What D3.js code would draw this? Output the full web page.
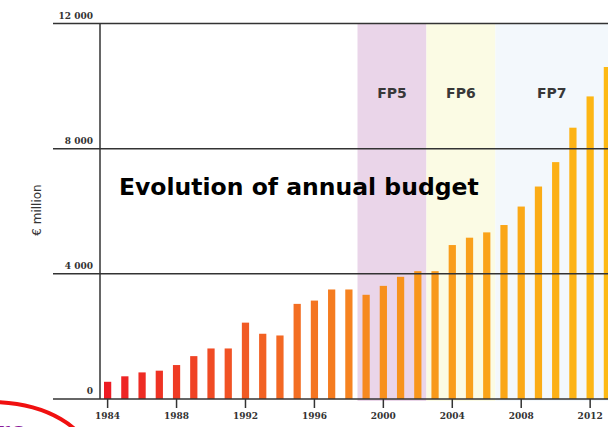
<!DOCTYPE html>
<html>
<head>
<meta charset="utf-8">
<script src="https://cdn.jsdelivr.net/npm/d3@7"></script>
<style>
  body { margin: 0; background: #fff; }
  svg { display: block; }
</style>
</head>
<body>
<svg width="608" height="427"></svg>
<script>
// budget per year, € million
var years = d3.range(1984, 2014);
var budget = [550, 725, 850, 905, 1085, 1370, 1615, 1615, 2440, 2085, 2030, 3040,
              3145, 3500, 3500, 3330, 3615, 3905, 4085, 4085, 4920, 5155, 5325, 5560,
              6150, 6790, 7570, 8670, 9670, 10610];
var yTicks = [0, 4000, 8000, 12000];
var xTicks = [1984, 1988, 1992, 1996, 2000, 2004, 2008, 2012];
var programmes = ["FP5", "FP6", "FP7"];
var progStart = [1999, 2003, 2007];
var progEnd = [2002, 2006, 2013];
var progColors = ["#ead5e9", "#fbfbe4", "#f3f8fc"];

var svg = d3.select("svg"),
    width = +svg.attr("width"),
    axisX = 100;

var x = d3.scaleBand().domain(years).range([99, 616])
    .paddingInner(0.58).paddingOuter(0.29);
var y = d3.scaleLinear().domain([0, 12000]).range([399, 23.5]);
var color = d3.scaleLinear().domain([1984, 1992, 2000, 2013])
    .range(["#ed1c24", "#f15a24", "#f7901e", "#fdb913"]);

function mid(yr) { return x(yr) + x.bandwidth() / 2; }
var half = x.step() / 2;

/* programme bands */
svg.selectAll(".band")
    .data(programmes)
    .enter().append("rect")
    .attr("class", "band")
    .attr("x", function(d, i) { return mid(progStart[i]) - half; })
    .attr("width", function(d, i) {
        var end = i == 2 ? width : mid(progEnd[i]) + half;
        return end - (mid(progStart[i]) - half);
    })
    .attr("y", y(12000))
    .attr("height", y(0) - y(12000) + 2)
    .attr("fill", function(d, i) { return progColors[i]; });

svg.selectAll(".fp")
    .data(programmes)
    .enter().append("text")
    .attr("x", function(d, i) {
        var a = mid(progStart[i]) - half,
            b = i == 2 ? width : mid(progEnd[i]) + half;
        return (a + b) / 2;
    })
    .attr("y", 98)
    .attr("text-anchor", "middle")
    .style("font", "bold 14px 'DejaVu Sans'")
    .attr("fill", "#383838")
    .text(function(d) { return d; });

/* bars */
svg.selectAll(".bar")
    .data(budget)
    .enter().append("rect")
    .attr("class", "bar")
    .attr("x", function(d, i) { return x(years[i]); })
    .attr("width", x.bandwidth())
    .attr("y", function(d) { return y(d); })
    .attr("height", function(d) { return y(0) - y(d); })
    .attr("fill", function(d, i) { return color(years[i]); });

/* gridlines + y labels */
svg.selectAll(".grid")
    .data(yTicks)
    .enter().append("line")
    .attr("x1", 53).attr("x2", width)
    .attr("y1", function(d) { return y(d); })
    .attr("y2", function(d) { return y(d); })
    .attr("stroke", "#333").attr("stroke-width", 1.5);

svg.selectAll(".ylab")
    .data(yTicks)
    .enter().append("text")
    .attr("x", 93)
    .attr("y", function(d) { return y(d) - 5; })
    .attr("text-anchor", "end")
    .style("font", "bold 9px 'DejaVu Serif'")
    .attr("fill", "#333")
    .text(function(d) { return d3.format(",")(d).replace(",", " "); });

svg.append("line")
    .attr("x1", axisX).attr("x2", axisX)
    .attr("y1", y(12000)).attr("y2", y(0))
    .attr("stroke", "#333").attr("stroke-width", 1.5);

/* x ticks */
var xt = svg.selectAll(".xt")
    .data(xTicks)
    .enter().append("g")
    .attr("transform", function(d) { return "translate(" + mid(d) + "," + y(0) + ")"; });
xt.append("line").attr("y2", 9).attr("stroke", "#333").attr("stroke-width", 1.5);
xt.append("text")
    .attr("y", 20)
    .attr("text-anchor", "middle")
    .style("font", "bold 9px 'DejaVu Serif'")
    .attr("fill", "#333")
    .text(function(d) { return d; });

svg.append("text")
    .attr("transform", "translate(41,210) rotate(-90)")
    .attr("text-anchor", "middle")
    .style("font", "12px 'DejaVu Sans'")
    .attr("fill", "#333")
    .text("€ million");

svg.append("text")
    .attr("x", 119).attr("y", 195)
    .style("font", "bold 23.5px 'DejaVu Sans'")
    .attr("fill", "#000")
    .text("Evolution of annual budget");

/* bits of the slide overlay in the corner */
svg.append("ellipse")
    .attr("cx", -10).attr("cy", 460).attr("rx", 100).attr("ry", 58)
    .attr("fill", "none").attr("stroke", "#f01010").attr("stroke-width", 4);
svg.append("text")
    .attr("x", -3).attr("y", 441)
    .style("font", "bold 26px 'DejaVu Sans'")
    .attr("fill", "#8a1a9a")
    .text("ro");
</script>
</body>
</html>
